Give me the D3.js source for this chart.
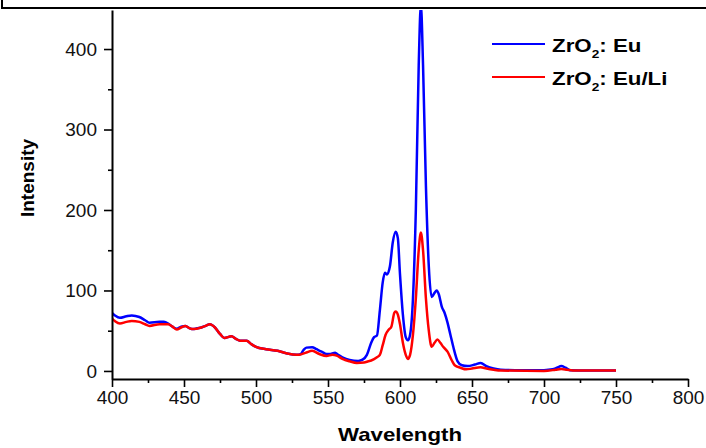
<!DOCTYPE html>
<html>
<head>
<meta charset="utf-8">
<script src="https://cdn.jsdelivr.net/npm/d3@7"></script>
<style>
  body { margin: 0; background: #fff; }
  svg { display: block; }
</style>
</head>
<body>
<div id="chart"></div>
<script>
// Emission spectra (wavelength in nm, intensity a.u.)
const euWave = [400, 402, 405.5, 410, 413.7, 419, 423, 426, 433, 436, 439, 442, 445, 448, 451, 454, 456.5, 459, 462, 465, 468,
  471.5, 475, 478, 483, 486, 489, 493.5, 497, 500, 507, 515, 521, 528, 531, 533, 535, 539, 542, 545.6, 549, 551, 555, 557,
  560, 565, 571, 574, 577, 580, 582, 584, 586, 588, 589.5, 591, 593, 595, 597, 598.5, 600, 602, 604, 605.5, 607, 609, 611,
  613, 614.5, 616, 618, 620, 622, 624, 625.5, 627, 629, 631, 633, 635, 637, 640, 643, 647, 652, 656, 660, 665, 670, 680,
  700, 706, 709, 712, 715, 718, 730, 750];
const euValues = [72, 69, 66, 68, 69, 67, 63, 60, 61, 61, 59, 55, 52.5, 55, 56, 53, 52, 53, 54, 56, 58,
  54, 46, 41, 43, 40, 37.6, 37.6, 33, 30, 27, 25, 22, 20, 21, 26, 29, 29.5, 27, 24, 21, 21, 22.7, 20,
  17, 13.7, 12.4, 14, 20, 35, 42, 44, 75, 110, 122, 120, 130, 160, 173, 165, 120, 70, 42, 38, 45, 90, 200,
  380, 455, 380, 230, 130, 92, 97, 100, 95, 80, 72, 60, 45, 30, 12, 7, 6, 8, 10, 6, 3, 1.5, 1,
  1, 2, 4, 6, 4, 1, 0.5, 0.5];

const liWave = [400, 402, 405.5, 410, 413.7, 419, 423, 426, 433, 439, 442, 445, 448, 451, 454, 456.5, 462, 465, 468,
  471.5, 475, 478, 483, 486, 489, 493.5, 497, 500, 507, 515, 521, 528, 530, 535, 539, 544, 549, 553, 556, 560, 565, 570,
  575, 578, 580, 584, 586, 588, 590, 592, 594, 596, 597, 598.5, 600, 602, 604, 605.5, 607, 609, 611, 613, 614.5, 616,
  618, 620, 622, 624, 626, 628, 630, 633, 636, 638, 642, 646, 650, 656, 660, 665, 670, 700, 708, 712, 716, 720, 750];
const liValues = [65, 62, 59, 61, 62, 61, 58, 56, 58, 58, 55, 51.6, 54, 56, 53, 52, 54, 56, 58,
  54, 46, 41, 43, 40, 37.6, 37.6, 33, 30, 27, 25, 22, 20, 20, 23, 25, 21, 18.6, 20, 19, 15, 12, 10,
  10.5, 12, 13, 17, 20, 32, 45, 51, 55, 72, 74, 70, 58, 35, 20, 15, 20, 45, 90, 150, 172, 150,
  90, 50, 30, 35, 39, 35, 30, 24, 13, 7, 4, 2, 3, 4.5, 3, 1.5, 0.5, 0, 1.5, 2.5, 1.5, 0.5, 0.5];

const seriesNames = ["Eu", "Eu/Li"];
const seriesColors = ["#0000ff", "#ff0000"];
const xTicks = [400, 450, 500, 550, 600, 650, 700, 750, 800];
const yTicks = [0, 100, 200, 300, 400];

const width = 706, height = 448;
const margin = { top: 10, right: 18, bottom: 69, left: 112 };
const innerW = width - margin.left - margin.right,
      innerH = height - margin.top - margin.bottom;

const svg = d3.select("#chart").append("svg")
    .attr("width", width)
    .attr("height", height)
    .style("font-family", "'Liberation Sans', Arial, sans-serif");

// top frame left over from the original figure box
svg.append("path")
    .attr("d", "M2,0V8H706")
    .attr("fill", "none")
    .attr("stroke", "#000")
    .attr("stroke-width", 2);

const g = svg.append("g")
    .attr("transform", "translate(" + margin.left + "," + margin.top + ")");

const x = d3.scaleLinear().domain([400, 800]).range([0, innerW]);
const y = d3.scaleLinear().domain([-10, 448.5]).range([innerH, 0]);

g.append("clipPath").attr("id", "plot-clip")
  .append("rect").attr("width", innerW).attr("height", innerH);

// Lines
const line = d3.line()
    .x(d => x(d[0]))
    .y(d => y(d[1]))
    .curve(d3.curveMonotoneX);

const series = [d3.zip(euWave, euValues), d3.zip(liWave, liValues)];

series.forEach(function(pts, i) {
    g.append("path")
        .datum(pts)
        .attr("clip-path", "url(#plot-clip)")
        .attr("fill", "none")
        .attr("stroke", seriesColors[i])
        .attr("stroke-width", 2.5)
        .attr("stroke-linejoin", "round")
        .attr("d", line);
});

// Axes: minor ticks first, then majors with labels
const xMinor = d3.range(425, 800, 50);
const yMinor = d3.range(50, 400, 100);

g.append("g")
    .attr("transform", "translate(0," + innerH + ")")
    .call(d3.axisBottom(x).tickValues(xMinor).tickSize(4).tickFormat(""))
    .call(a => a.select(".domain").remove())
    .selectAll("line").attr("stroke-width", 1.6);

g.append("g")
    .call(d3.axisLeft(y).tickValues(yMinor).tickSize(4).tickFormat(""))
    .call(a => a.select(".domain").remove())
    .selectAll("line").attr("stroke-width", 1.6);

const xAxis = g.append("g")
    .attr("transform", "translate(0," + innerH + ")")
    .call(d3.axisBottom(x).tickValues(xTicks).tickSize(8).tickPadding(4).tickSizeOuter(0));

const yAxis = g.append("g")
    .call(d3.axisLeft(y).tickValues(yTicks).tickSize(8).tickPadding(7).tickSizeOuter(0));

[xAxis, yAxis].forEach(function(a) {
    a.select(".domain").attr("stroke-width", 2);
    a.selectAll(".tick line").attr("stroke-width", 1.6);
    a.selectAll(".tick text")
        .attr("fill", "#111")
        .style("font-size", "19px");
});

// Axis titles
svg.append("text")
    .attr("x", margin.left + innerW / 2)
    .attr("y", 441)
    .attr("text-anchor", "middle")
    .attr("textLength", 124)
    .attr("lengthAdjust", "spacingAndGlyphs")
    .style("font-size", "19px")
    .style("font-weight", "bold")
    .text("Wavelength");

svg.append("text")
    .attr("transform", "translate(34,178) rotate(-90)")
    .attr("text-anchor", "middle")
    .style("font-size", "19px")
    .style("font-weight", "bold")
    .text("Intensity");

// Legend
const legend = svg.append("g").attr("transform", "translate(492,44)");

seriesNames.forEach(function(name, i) {
    const row = legend.append("g").attr("transform", "translate(0," + (i * 33) + ")");
    row.append("line")
        .attr("x1", 0).attr("x2", 53)
        .attr("stroke", seriesColors[i])
        .attr("stroke-width", 2);
    const t = row.append("g")
        .attr("transform", "translate(60,8) scale(1.24,1)")
      .append("text")
        .style("font-size", "18px")
        .style("font-weight", "bold");
    t.append("tspan").text("ZrO");
    t.append("tspan").attr("dy", 6).style("font-size", "11px").text("2");
    t.append("tspan").attr("dy", -6).text(": " + name);
});
</script>
</body>
</html>
